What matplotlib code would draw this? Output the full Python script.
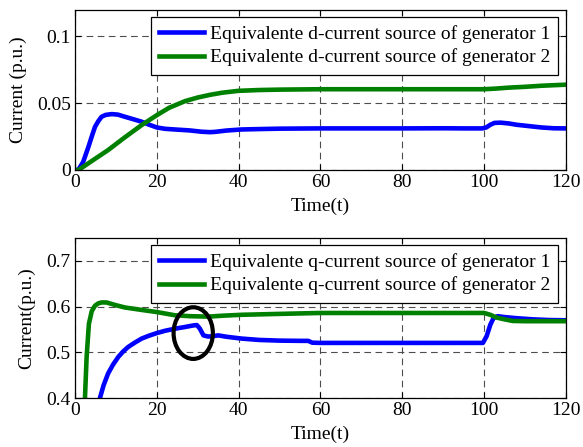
import numpy as np
import matplotlib
matplotlib.use('Agg')
import matplotlib.pyplot as plt
from matplotlib.patches import Ellipse

plt.rcParams['font.family'] = ['Liberation Serif', 'DejaVu Serif']
plt.rcParams['mathtext.fontset'] = 'stix'

# d-axis current sources
t_d1 = np.array([0, 0.8, 2, 3.3, 4.2, 4.9, 5.7, 6.5, 7.5, 9, 10.5, 12.2, 14, 16.3, 18, 20,
                 22, 24.4, 28, 31, 33, 34.2, 37, 40.7, 45, 50, 60, 70, 80, 90, 95, 99.5,
                 100.5, 101.5, 102.5, 104, 106, 108, 111, 114, 117, 120])
v_d1 = np.array([0, 0, 0.006, 0.0174, 0.026, 0.0323, 0.0365, 0.0398, 0.0412, 0.0418, 0.0414,
                 0.0398, 0.0382, 0.0361, 0.034, 0.0318, 0.0308, 0.0303, 0.0296, 0.0286,
                 0.0283, 0.0285, 0.0295, 0.0303, 0.0306, 0.0309, 0.0311, 0.0311, 0.0311,
                 0.0312, 0.0311, 0.0311, 0.0318, 0.0338, 0.0352, 0.0354, 0.0348, 0.0338,
                 0.0328, 0.0318, 0.0312, 0.0311])
t_d2 = np.array([0, 1, 1.6, 4, 8.1, 12, 16.3, 20, 23, 26.9, 30, 33, 36, 40, 45, 50, 60, 70,
                 80, 90, 100, 103, 106, 110, 114, 117, 120])
v_d2 = np.array([0, 0, 0.0015, 0.0065, 0.0149, 0.024, 0.0336, 0.041, 0.0465, 0.0515, 0.0542,
                 0.0562, 0.0578, 0.0592, 0.0598, 0.0601, 0.0604, 0.0604, 0.0604, 0.0604,
                 0.0604, 0.0609, 0.0616, 0.0622, 0.063, 0.0634, 0.0638])

# q-axis current sources
t_q1 = np.array([5.6, 6.1, 7, 8.1, 9.3, 10.6, 11.8, 13, 14.6, 16.3, 18, 20, 22, 24.4, 27,
                 28.9, 29.8, 30.5, 31.4, 32.5, 33.4, 35, 37, 40.7, 45, 50, 55, 57, 58, 60,
                 70, 80, 90, 99.7, 100.6, 101.5, 102.3, 103.3, 105, 108, 112, 116, 120])
v_q1 = np.array([0.38, 0.4, 0.428, 0.4537, 0.473, 0.49, 0.502, 0.5116, 0.521, 0.530, 0.536,
                 0.542, 0.547, 0.5515, 0.5555, 0.5587, 0.5595, 0.552, 0.537, 0.5345, 0.5348,
                 0.537, 0.534, 0.530, 0.527, 0.5255, 0.525, 0.525, 0.521, 0.5205, 0.5205,
                 0.5205, 0.5205, 0.5205, 0.535, 0.56, 0.575, 0.579, 0.577, 0.5745, 0.572,
                 0.5705, 0.570])
t_q2 = np.array([2.3, 2.44, 2.85, 3.4, 4.1, 4.9, 5.7, 6.5, 7.7, 10, 12.2, 16, 20, 24.4,
                 28, 32.6, 36, 40.7, 50, 60, 70, 80, 90, 100, 101.5, 103, 105, 107, 110,
                 115, 120])
v_q2 = np.array([0.38, 0.4, 0.49, 0.562, 0.59, 0.602, 0.607, 0.609, 0.609, 0.603, 0.598,
                 0.593, 0.588, 0.581, 0.579, 0.578, 0.58, 0.582, 0.584, 0.586, 0.586, 0.586,
                 0.586, 0.586, 0.582, 0.576, 0.572, 0.5685, 0.568, 0.568, 0.568])

blue = '#0000ff'
green = '#008000'
xticks = [0, 20, 40, 60, 80, 100, 120]
fs = 14

fig = plt.figure(figsize=(5.83, 4.47), dpi=100)
ax1 = fig.add_axes([0.1286, 0.6197, 0.8422, 0.359])
ax2 = fig.add_axes([0.1286, 0.1096, 0.8422, 0.358])


def style_axes(ax):
    ax.set_xlim(0, 120)
    ax.set_xticks(xticks)
    ax.tick_params(direction='in', top=True, right=True, length=4, width=0.8,
                   labelsize=fs, colors='black', pad=3)
    ax.grid(True, color='0.3', linestyle=(0, (6, 4)), linewidth=0.8)
    for s in ax.spines.values():
        s.set_linewidth(0.9)
    ax.set_xlabel('Time(t)', fontsize=fs, labelpad=5)


ax1.plot(t_d1, v_d1, color=blue, lw=3.3, label='Equivalente d-current source of generator 1')
ax1.plot(t_d2, v_d2, color=green, lw=3.3, label='Equivalente d-current source of generator 2')
ax1.set_ylim(0, 0.12)
ax1.set_yticks([0, 0.05, 0.1])
ax1.set_yticklabels(['0', '0.05', '0.1'])
ax1.set_ylabel('Current (p.u.)', fontsize=fs, labelpad=7)
style_axes(ax1)

ax2.plot(t_q1, v_q1, color=blue, lw=3.3, label='Equivalente q-current source of generator 1')
ax2.plot(t_q2, v_q2, color=green, lw=3.3, label='Equivalente q-current source of generator 2')
ax2.set_ylim(0.4, 0.75)
ax2.set_yticks([0.4, 0.5, 0.6, 0.7])
ax2.set_yticklabels(['0.4', '0.5', '0.6', '0.7'])
ax2.set_ylabel('Current(p.u.)', fontsize=fs, labelpad=8)
style_axes(ax2)

# mark the dip near t = 30
ax2.add_patch(Ellipse((28.9, 0.542), 9.6, 0.113, fill=False, edgecolor='black', lw=3,
                      zorder=5))

for ax, ytop in ((ax1, 0.953), (ax2, 0.956)):
    leg = ax.legend(loc='upper right', bbox_to_anchor=(0.984, ytop), borderaxespad=0,
                    fontsize=fs, handlelength=2.3, handletextpad=0.3, labelspacing=0.28,
                    borderpad=0.42, fancybox=False, framealpha=1, edgecolor='black')
    leg.get_frame().set_linewidth(0.9)

fig.savefig('out.png', dpi=100)
